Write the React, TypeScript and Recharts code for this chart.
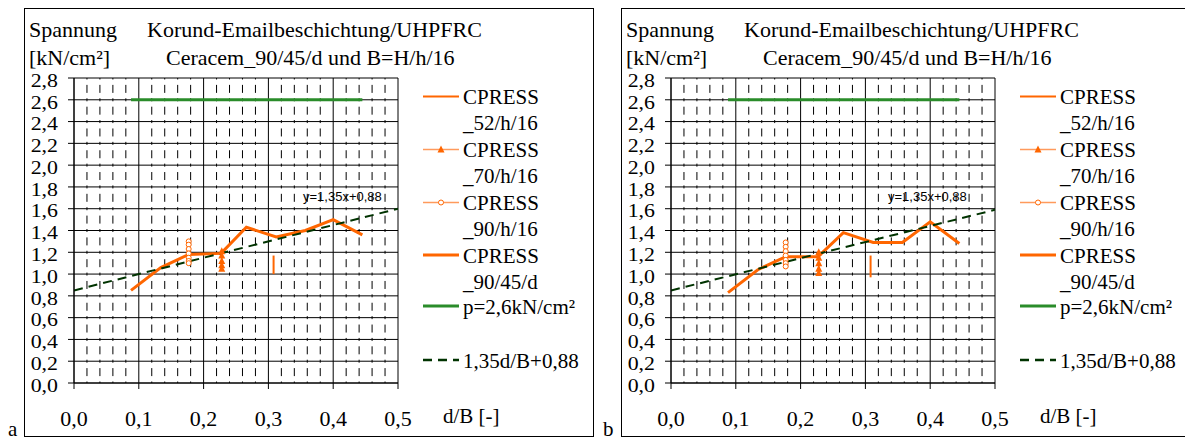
import React from "react";
import { LineChart, Line, XAxis, YAxis, CartesianGrid, ReferenceLine } from "recharts";

// d/B positions of the CPRESS_90/45/d series (and the p=2,6 line)
const dB = [0.088, 0.134, 0.177, 0.227, 0.266, 0.312, 0.357, 0.4, 0.445];
const cpress9045dA = [0.85, 1.06, 1.18, 1.19, 1.43, 1.34, 1.4, 1.5, 1.36];
const cpress9045dB = [0.83, 1.04, 1.16, 1.16, 1.38, 1.29, 1.29, 1.48, 1.28];

// single-position series (several readings at one d/B)
const x90h16 = 0.177;
const cpress90h16A = [1.3, 1.27, 1.23, 1.19, 1.15, 1.12, 1.1];
const cpress90h16B = [1.29, 1.25, 1.21, 1.17, 1.13, 1.1, 1.07];
const x70h16 = 0.228;
const cpress70h16A = [1.21, 1.17, 1.12, 1.08, 1.05];
const cpress70h16B = [1.2, 1.15, 1.1, 1.05, 1.01];
const x52h16 = 0.308;
const cpress52h16A = [1.17, 1.08, 1.0];
const cpress52h16B = [1.17, 1.07, 0.97];

const pLimit = 2.6;
const trendX = [0, 0.5];
const trendA = [0.85, 1.6];
const trendB = [0.85, 1.59];

const xTicks = [0, 0.1, 0.2, 0.3, 0.4, 0.5];
const xMinor = [
  0.02, 0.04, 0.06, 0.08, 0.12, 0.14, 0.16, 0.18, 0.22, 0.24, 0.26, 0.28,
  0.32, 0.34, 0.36, 0.38, 0.42, 0.44, 0.46, 0.48,
];
const yTicks = [0, 0.2, 0.4, 0.6, 0.8, 1.0, 1.2, 1.4, 1.6, 1.8, 2.0, 2.2, 2.4, 2.6, 2.8];

const titleLine1 = ["Spannung", "Korund-Emailbeschichtung/UHPFRC"];
const titleLine2 = ["[kN/cm²]", "Ceracem_90/45/d und B=H/h/16"];
const legendRows = [
  ["CPRESS", "_52/h/16"],
  ["CPRESS", "_70/h/16"],
  ["CPRESS", "_90/h/16"],
  ["CPRESS", "_90/45/d"],
  ["p=2,6kN/cm²"],
  ["1,35d/B+0,88"],
];
const eqLabel = "y=1,35x+0,88";
const xLabel = "d/B [-]";

const serif = `"Liberation Serif", "Times New Roman", "DejaVu Serif", serif`;
const orange = "#FF6600";
const lightOrange = "#FF9A5C";
const green = "#2A8C2A";
const darkGreen = "#003300";

const fmt = (v: number) => v.toFixed(1).replace(".", ",");
const pairs = (xs: number[], ys: number[]) => xs.map((x, i) => ({ x, y: ys[i] }));
const column = (x: number, ys: number[]) => ys.map((y) => ({ x, y }));

const Triangle = (props: any) => {
  const { cx, cy, index } = props;
  if (cx == null || cy == null) return <g key={index} />;
  return (
    <polygon
      key={index}
      points={`${cx},${cy - 4} ${cx - 3.5},${cy + 3} ${cx + 3.5},${cy + 3}`}
      fill={orange}
    />
  );
};

const YTick = (props: any) => {
  const { x, y, payload } = props;
  return (
    <text
      transform={`translate(${x},${y + 2}) scale(1.15,1)`}
      textAnchor="end"
      dy="0.355em"
      fontFamily={serif}
      fontSize={19}
      fill="#000"
    >
      {fmt(payload.value)}
    </text>
  );
};

interface PanelProps {
  left: number;
  main: number[];
  circles: number[];
  triangles: number[];
  thin: number[];
  trend: number[];
  eqX: number;
}

function Panel({ left, main, circles, triangles, thin, trend, eqX }: PanelProps) {
  const tickStyle = { fill: "#000", fontSize: 22, fontFamily: serif };
  // legend baselines
  const rowY = [96, 149, 202, 254.5, 305.5, 359.5];
  return (
    <div style={{ position: "absolute", left, top: 0, width: 570, height: 429 }}>
      <LineChart
        width={570}
        height={429}
        margin={{ top: 70, right: 196, bottom: 0, left: 0 }}
      >
        <CartesianGrid stroke="#000" strokeWidth={1} />
        {xMinor.map((v) => (
          <ReferenceLine
            key={v}
            x={v}
            stroke="#000"
            strokeWidth={1}
            strokeDasharray="8 5.393 3 5.393"
            strokeDashoffset={14.893}
          />
        ))}
        <XAxis
          type="number"
          dataKey="x"
          domain={[0, 0.5]}
          ticks={xTicks}
          interval={0}
          height={54}
          tickSize={6}
          tickMargin={21}
          tickFormatter={fmt}
          tick={tickStyle}
          axisLine={{ stroke: "#000" }}
          tickLine={{ stroke: "#000" }}
          allowDataOverflow
        />
        <YAxis
          type="number"
          domain={[0, 2.8]}
          ticks={yTicks}
          interval={0}
          width={50}
          tickSize={6}
          tickMargin={10}
          tick={YTick}
          axisLine={{ stroke: "#000" }}
          tickLine={{ stroke: "#000" }}
          allowDataOverflow
        />
        <Line
          data={dB.map((x) => ({ x, y: pLimit }))}
          dataKey="y"
          stroke={green}
          strokeWidth={3}
          dot={false}
          isAnimationActive={false}
        />
        <Line
          data={column(x52h16, thin)}
          dataKey="y"
          stroke={orange}
          strokeWidth={2}
          dot={false}
          isAnimationActive={false}
        />
        <Line
          data={column(x70h16, triangles)}
          dataKey="y"
          stroke={lightOrange}
          strokeWidth={1.5}
          dot={Triangle}
          isAnimationActive={false}
        />
        <Line
          data={column(x90h16, circles)}
          dataKey="y"
          stroke={lightOrange}
          strokeWidth={1.5}
          dot={{ r: 2.5, stroke: orange, strokeWidth: 1, fill: "#fff" }}
          isAnimationActive={false}
        />
        <Line
          data={pairs(dB, main)}
          dataKey="y"
          stroke={orange}
          strokeWidth={3}
          dot={false}
          isAnimationActive={false}
        />
        <Line
          data={pairs(trendX, trend)}
          dataKey="y"
          stroke={darkGreen}
          strokeWidth={2}
          strokeDasharray="9 6"
          dot={false}
          isAnimationActive={false}
        />
      </LineChart>

      <svg
        width={570}
        height={429}
        style={{ position: "absolute", left: 0, top: 0, pointerEvents: "none" }}
      >
        <rect x={0.5} y={0.5} width={569} height={428} fill="none" stroke="#000" />
        <g fontFamily={serif} fontSize={22} fill="#000">
          <text x={5} y={29}>{titleLine1[0]}</text>
          <text x={123} y={29}>{titleLine1[1]}</text>
          <text x={5} y={57}>{titleLine2[0]}</text>
          <text x={142} y={57}>{titleLine2[1]}</text>
        </g>
        <g fontFamily={serif} fontSize={21} fill="#000">
          <text x={419} y={415}>{xLabel}</text>
          {legendRows.map((lines, i) =>
            lines.map((t, j) => (
              <text key={`${i}-${j}`} x={439} y={rowY[i] + j * 26.3}>
                {t}
              </text>
            ))
          )}
        </g>
        <text
          x={eqX}
          y={193}
          fontFamily={`"Liberation Sans", Arial, sans-serif`}
          fontSize={13}
          fill="#000"
        >
          {eqLabel}
        </text>
        {/* legend keys */}
        <line x1={399} x2={435} y1={rowY[0] - 7.5} y2={rowY[0] - 7.5} stroke={orange} strokeWidth={2} />
        <line x1={399} x2={435} y1={rowY[1] - 7.5} y2={rowY[1] - 7.5} stroke={lightOrange} strokeWidth={1.5} />
        <polygon
          points={`417,${rowY[1] - 11.5} 413.5,${rowY[1] - 4.5} 420.5,${rowY[1] - 4.5}`}
          fill={orange}
        />
        <line x1={399} x2={435} y1={rowY[2] - 7.5} y2={rowY[2] - 7.5} stroke={lightOrange} strokeWidth={1.5} />
        <circle cx={417} cy={rowY[2] - 7.5} r={2.5} fill="#fff" stroke={orange} />
        <line x1={399} x2={435} y1={rowY[3] - 7.5} y2={rowY[3] - 7.5} stroke={orange} strokeWidth={3} />
        <line x1={399} x2={435} y1={rowY[4] - 7.5} y2={rowY[4] - 7.5} stroke={green} strokeWidth={3} />
        <line
          x1={399}
          x2={435}
          y1={rowY[5] - 7.5}
          y2={rowY[5] - 7.5}
          stroke={darkGreen}
          strokeWidth={2.5}
          strokeDasharray="9 6"
        />
      </svg>
    </div>
  );
}

export default function App() {
  return (
    <div style={{ position: "relative", width: 1185, height: 433, fontFamily: serif }}>
      <Panel
        left={16}
        main={cpress9045dA}
        circles={cpress90h16A}
        triangles={cpress70h16A}
        thin={cpress52h16A}
        trend={trendA}
        eqX={279}
      />
      <Panel
        left={613}
        main={cpress9045dB}
        circles={cpress90h16B}
        triangles={cpress70h16B}
        thin={cpress52h16B}
        trend={trendB}
        eqX={267}
      />
      <svg
        width={1185}
        height={433}
        style={{ position: "absolute", left: 0, top: 0, pointerEvents: "none", overflow: "visible" }}
      >
        <g fontFamily={serif} fontSize={21} fill="#000">
          <text x={0} y={428}>a</text>
          <text x={595} y={428}>b</text>
        </g>
      </svg>
    </div>
  );
}
